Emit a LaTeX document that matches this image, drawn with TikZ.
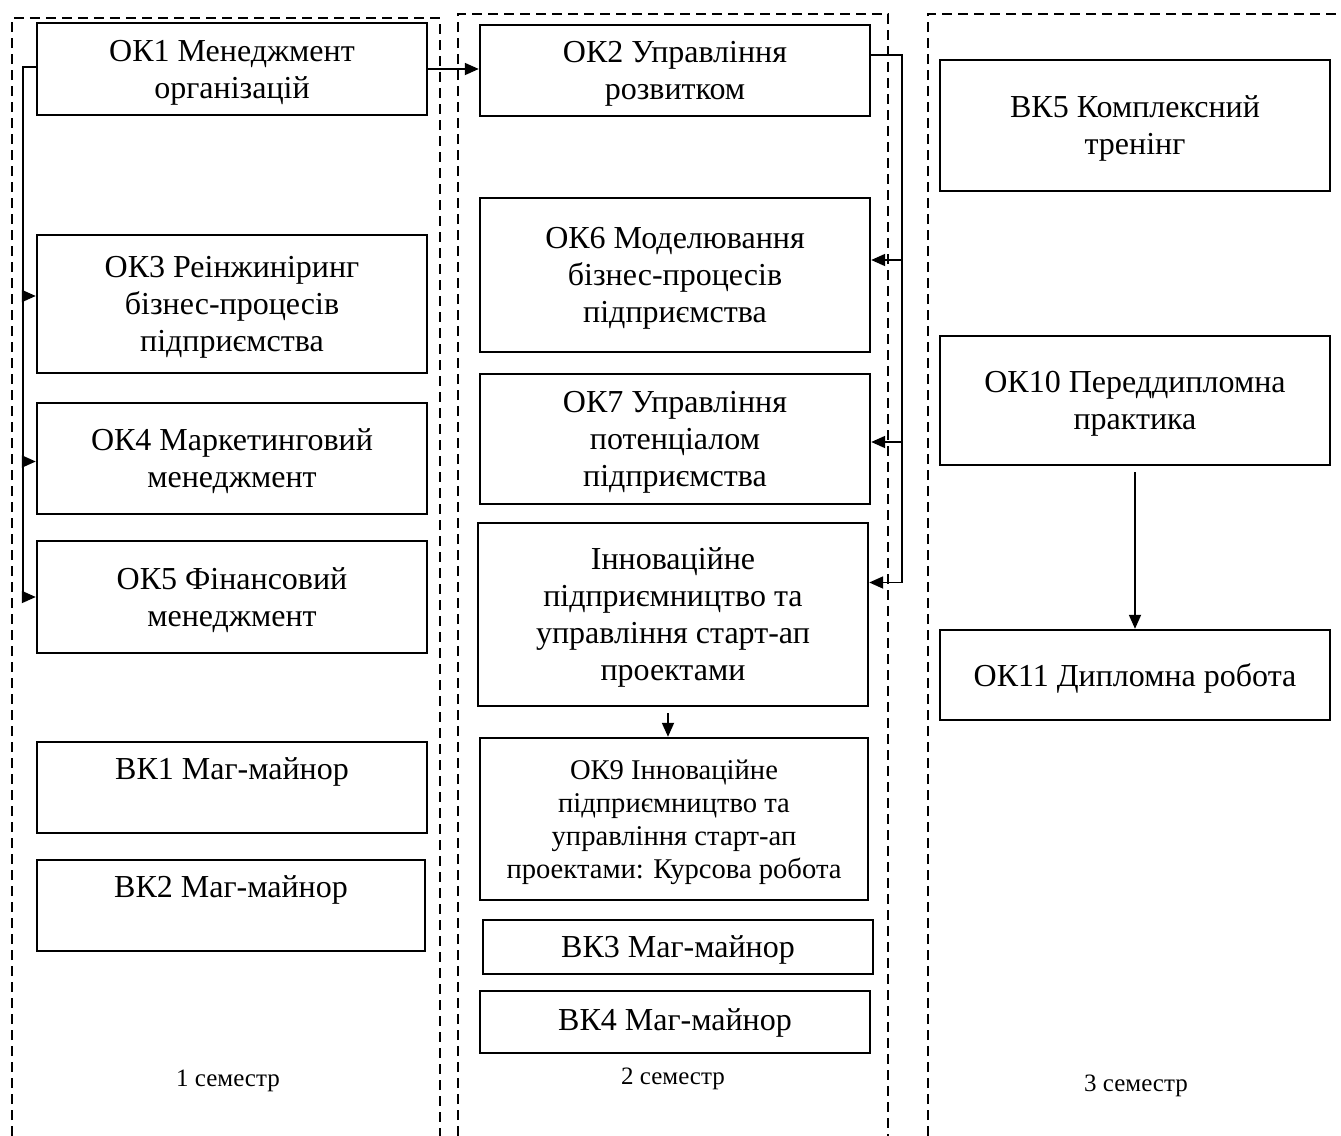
\documentclass[tikz,border=0pt]{standalone}
\usepackage{fontspec}
\setmainfont{Liberation Serif}
\usepackage{tikz}
\usetikzlibrary{calc}
\usetikzlibrary{arrows.meta}

\tikzset{
    box/.style={draw, line width=1.2pt, align=center, inner sep=0pt,
        minimum width=195pt, font=\fontsize{16}{18.5}\selectfont,
        text depth=-3.5pt},
    smallbox/.style={box, font=\fontsize{14.3}{16.5}\selectfont,
        text depth=-0.9pt},
    column/.style={line width=1.2pt, dash pattern=on 5pt off 3pt},
    conn/.style={line width=0.9pt},
    arr/.style={conn, -{Triangle[length=7pt,width=6pt]}},
    sem/.style={font=\fontsize{12.5}{14}\selectfont, inner sep=0pt}
}

\begin{document}
\begin{tikzpicture}[x=0.5pt, y=-0.5pt]
        \useasboundingbox (0,0) rectangle (1341,1136);

        % Dashed lines
        \draw[column] (12,1136) -- (12,18) -- (440,18) -- (440,1136);
        \draw[column] (458,1136) -- (458,14) -- (888,14) -- (888,1136);
        \draw[column] (928,1136) -- (928,14) -- (1341,14);

        % 1 semester
        \node[box, minimum height=46pt] (ok1) at (232,69) {ОК1 Менеджмент\\організацій};
        \node[box, minimum height=69pt] (ok3) at (232,304) {ОК3 Реінжиніринг\\бізнес-процесів\\підприємства};
        \node[box, minimum height=55.5pt] (ok4) at (232,458.5) {ОК4 Маркетинговий\\менеджмент};
        \node[box, minimum height=56pt] (ok5) at (232,597) {ОК5 Фінансовий\\менеджмент};
        \node[box, minimum height=45.5pt] (vk1) at (232,787.5) {ВК1 Маг-майнор\\\mbox{}};
        \node[box, minimum height=45.5pt, minimum width=194pt] (vk2) at (231,905.5) {ВК2 Маг-майнор\\\mbox{}};
        \node[sem] (s1) at (228,1081) {1 семестр};

        % 2 semester
        \node[box, minimum height=45.5pt] (ok2) at (675,70.5) {ОК2 Управління\\розвитком};
        \node[box, minimum height=77pt] (ok6) at (675,275) {ОК6 Моделювання\\бізнес-процесів\\підприємства};
        \node[box, minimum height=65pt] (ok7) at (675,439) {ОК7 Управління\\потенціалом\\підприємства};
        \node[box, minimum height=91.5pt] (ok8) at (673,614.5) {Інноваційне\\підприємництво та\\управління старт-ап\\проектами};
        \node[smallbox, minimum height=81pt, minimum width=194pt] (ok9) at (674,819) {ОК9 Інноваційне\\підприємництво та\\управління старт-ап\\проектами: Курсова робота};
        \node[box, minimum height=27pt] (vk3) at (678,947) {ВК3 Маг-майнор};
        \node[box, minimum height=31pt, text depth=2pt] (vk4) at (675,1022) {ВК4 Маг-майнор};
        \node[sem] (s2) at (673,1079) {2 семестр};

        % 3 semester
        \node[box, minimum height=65.5pt] (vk5) at (1135,125.5) {ВК5 Комплексний\\тренінг};
        \node[box, minimum height=64.5pt] (ok10) at (1135,400.5) {ОК10 Переддипломна\\практика};
        \node[box, minimum height=45pt] (ok11) at (1135,675) {ОК11 Дипломна робота};
        \node[sem] (s3) at (1136,1086) {3 семестр};

        % Left bus
        \coordinate (lb1) at (23,67);
        \coordinate (t3) at ([yshift=4pt]ok3.west);
        \coordinate (t4) at ([yshift=-1.5pt]ok4.west);
        \draw[conn] (lb1 -| ok1.west) -- (lb1) -- (lb1 |- ok5.west);
        \draw[arr] (lb1 |- t3) -- (t3);
        \draw[arr] (lb1 |- t4) -- (t4);
        \draw[arr] (lb1 |- ok5.west) -- (ok5.west);

        % Right bus
        \coordinate (rb1) at (902,55);
        \coordinate (t6) at ([yshift=7.5pt]ok6.east);
        \coordinate (t7) at ([yshift=-1.5pt]ok7.east);
        \coordinate (t8) at ([yshift=16pt]ok8.east);
        \draw[conn] (rb1 -| ok2.east) -- (rb1) -- (rb1 |- t8);
        \draw[arr] (rb1 |- t6) -- (t6);
        \draw[arr] (rb1 |- t7) -- (t7);
        \draw[arr] (rb1 |- t8) -- (t8);

        % Other arrows
        \draw[arr] (ok1.east) -- (ok1.east -| ok2.west);
        \coordinate (t9) at ([xshift=-3pt]ok9.north);
        \draw[arr, shorten <=3pt] (ok8.south -| t9) -- (t9);
        \draw[arr, shorten <=3pt] (ok10.south) -- (ok11.north);
\end{tikzpicture}
\end{document}
